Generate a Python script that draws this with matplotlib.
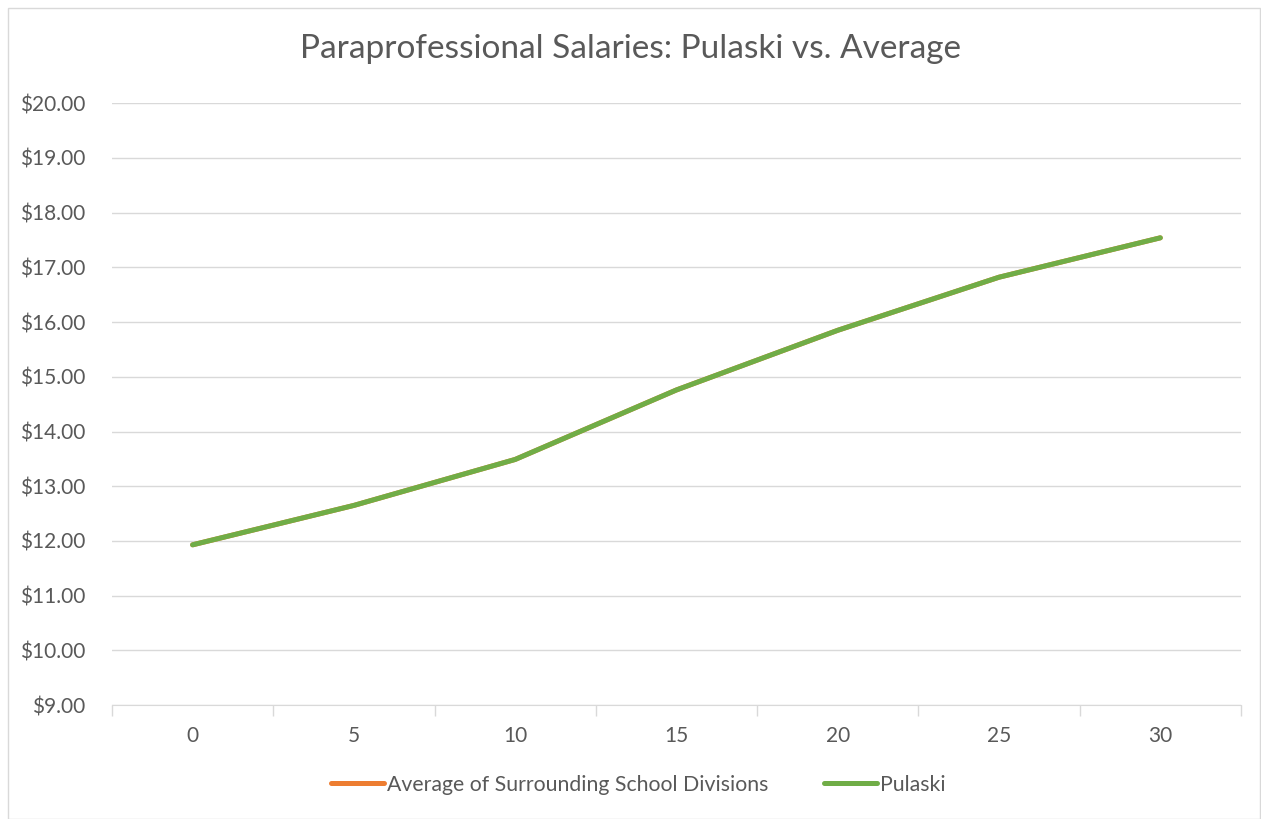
import matplotlib
matplotlib.use("Agg")
import matplotlib.pyplot as plt
from matplotlib.patches import Rectangle
import numpy as np

years = [0, 5, 10, 15, 20, 25, 30]
average = [11.93, 12.65, 13.49, 14.76, 15.85, 16.82, 17.54]
pulaski = [11.93, 12.65, 13.49, 14.76, 15.85, 16.82, 17.54]
yticks = [9, 10, 11, 12, 13, 14, 15, 16, 17, 18, 19, 20]

plt.rcParams['font.family'] = ['Lato', 'DejaVu Sans']
fig = plt.figure(figsize=(12.61, 8.19), dpi=100)
fig.patches.append(Rectangle((0.006, 0.0), 0.993, 0.99, transform=fig.transFigure,
                             fill=False, edgecolor='#d9d9d9', lw=1))
ax = fig.add_axes([0.0888, 0.139, 0.8953, 0.735])

x = np.arange(len(years))
ax.plot(x, average, color='#ED7D31', lw=3.6, solid_capstyle='round',
        label='Average of Surrounding School Divisions', zorder=3)
ax.plot(x, pulaski, color='#70AD47', lw=3.6, solid_capstyle='round',
        label='Pulaski', zorder=4)

ax.set_xlim(-0.5, len(years) - 0.5)
ax.set_ylim(9, 20)
ax.set_yticks(yticks)
ax.set_yticklabels([f'${v:.2f}' for v in yticks])
ax.set_xticks(x)
ax.set_xticklabels([str(y) for y in years])
ax.set_xticks(np.arange(-0.5, len(years)), minor=True)
ax.tick_params(axis='x', which='major', length=0, pad=15, labelsize=15, labelcolor='#595959')
ax.tick_params(axis='x', which='minor', length=8, color='#d9d9d9', width=1)
ax.tick_params(axis='y', length=0, pad=19, labelsize=15, labelcolor='#595959')
ax.grid(axis='y', color='#d9d9d9', lw=1)
ax.set_axisbelow(True)
for s in ['top', 'right', 'left']:
    ax.spines[s].set_visible(False)
ax.spines['bottom'].set_color('#d9d9d9')

fig.text(0.5, 0.94, 'Paraprofessional Salaries: Pulaski vs. Average', ha='center', va='center',
         fontsize=24, color='#595959')
leg = fig.legend(loc='center', bbox_to_anchor=(0.506, 0.042), ncol=2, frameon=False,
                 fontsize=15.3, handlelength=2.5, handletextpad=0.15, columnspacing=2.6,
                 labelcolor='#595959')
fig.savefig('out.png', dpi=100)
